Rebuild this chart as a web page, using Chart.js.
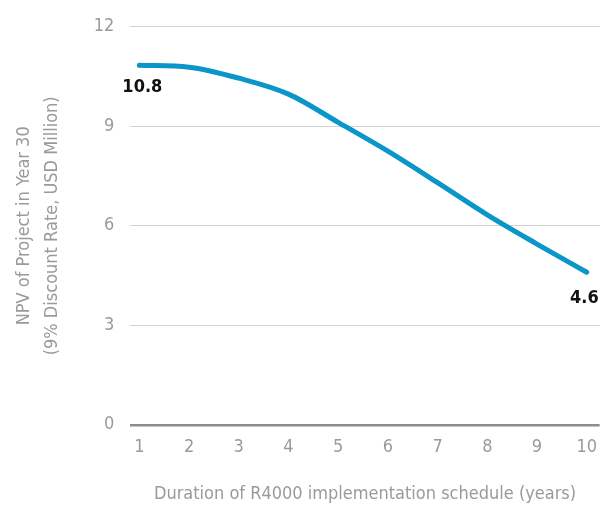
<!DOCTYPE html>
<html>
<head>
<meta charset="utf-8">
<script src="https://cdn.jsdelivr.net/npm/chart.js@4"></script>
<style>
  html, body { margin: 0; padding: 0; background: #fff; overflow: hidden; }
  #wrap { width: 601px; height: 506px; position: relative; }
</style>
</head>
<body>
<div id="wrap"><canvas id="chart"></canvas></div>
<script>
'use strict';

/* データ */
const years = [1, 2, 3, 4, 5, 6, 7, 8, 9, 10];
const npv = [10.84, 10.78, 10.45, 9.97, 9.12, 8.25, 7.3, 6.33, 5.45, 4.6];
const yTicks = [0, 3, 6, 9, 12];
const endLabels = ['10.8', '4.6'];

const FONT = '"DejaVu Sans Condensed", "Liberation Sans Narrow", sans-serif';
const COLOR_LINE = '#0a96c8';
const COLOR_TEXT = '#9a9a9a';

/* 始点と終点に数値ラベル（終点は右端で切れないよう右寄せ） */
const endLabelPlugin = {
  id: 'endLabels',
  afterDatasetsDraw(chart) {
    const meta = chart.getDatasetMeta(0);
    const ctx = chart.ctx;
    const first = meta.data[0];
    const last = meta.data[meta.data.length - 1];
    ctx.save();
    ctx.font = 'bold 18px ' + FONT;
    ctx.fillStyle = '#111';
    ctx.textBaseline = 'middle';
    ctx.textAlign = 'center';
    ctx.fillText(endLabels[0], first.x + 3, first.y + 22);
    ctx.textAlign = 'right';
    ctx.fillText(endLabels[1], last.x + 12, last.y + 26);
    ctx.restore();
  },
};

new Chart(document.getElementById('chart'), {
  type: 'line',
  data: {
    datasets: [{
      data: years.map((x, i) => ({ x, y: npv[i] })),
      borderColor: COLOR_LINE,
      borderWidth: 5,
      borderCapStyle: 'round',
      pointRadius: 0,
      pointHoverRadius: 0,
      pointHitRadius: 0,
      cubicInterpolationMode: 'monotone',
      fill: false,
    }],
  },
  options: {
    responsive: true,
    maintainAspectRatio: false,
    animation: false,
    layout: { padding: { top: 10, right: 0, left: 6, bottom: -3 } },
    plugins: { legend: { display: false }, tooltip: { enabled: false } },
    scales: {
      x: {
        type: 'linear',
        min: 0.82,
        max: 10.26,
        afterBuildTicks: (s) => { s.ticks = years.map((v) => ({ value: v })); },
        grid: { display: false },
        border: { display: false },
        ticks: { color: COLOR_TEXT, font: { family: FONT, size: 18 }, padding: 4, autoSkip: false, maxRotation: 0 },
        title: {
          display: true,
          text: 'Duration of R4000 implementation schedule (years)',
          color: COLOR_TEXT,
          font: { family: FONT, size: 18 },
          padding: { top: 21 },
        },
      },
      y: {
        min: 0,
        max: 12,
        afterBuildTicks: (s) => { s.ticks = yTicks.map((v) => ({ value: v })); },
        grid: {
          drawTicks: false,
          color: (c) => (c.tick && c.tick.value === 0 ? '#8c8c8c' : '#d2d2d2'),
          lineWidth: (c) => (c.tick && c.tick.value === 0 ? 2.5 : 1),
        },
        border: { display: false },
        ticks: { color: COLOR_TEXT, font: { family: FONT, size: 18 }, padding: 16 },
        title: {
          display: true,
          text: ['NPV of Project in Year 30', '(9% Discount Rate, USD Million)'],
          color: COLOR_TEXT,
          font: { family: FONT, size: 18, lineHeight: 1.55 },
          padding: { bottom: 12 },
        },
      },
    },
  },
  plugins: [endLabelPlugin],
});
</script>
</body>
</html>
